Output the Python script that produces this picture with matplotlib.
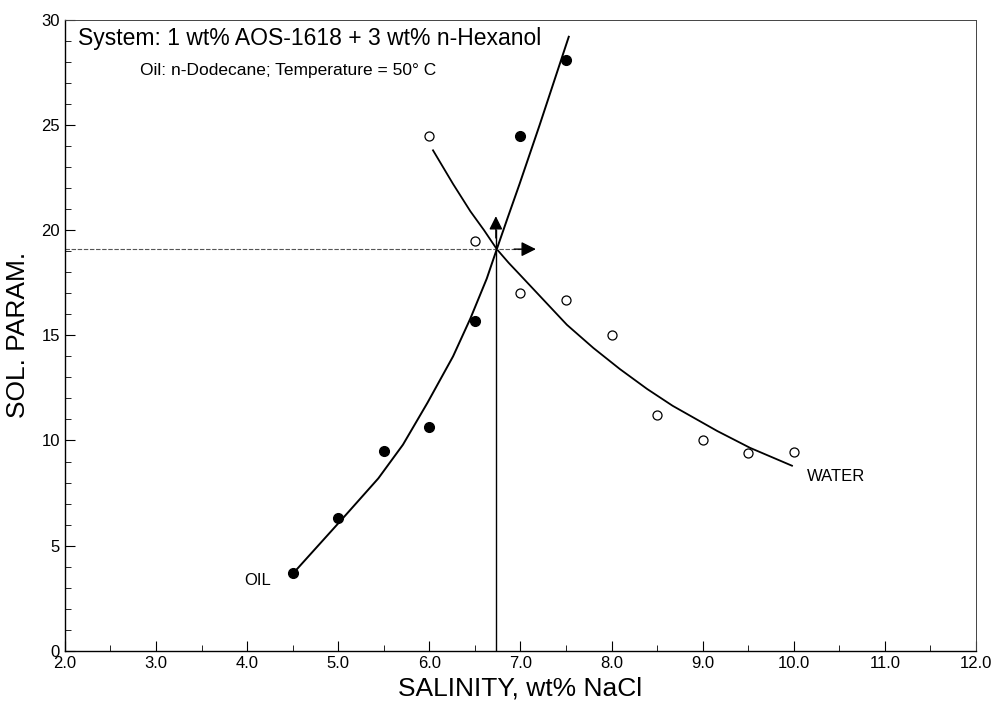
import matplotlib
matplotlib.use("Agg")
import matplotlib.pyplot as plt
import numpy as np
from matplotlib.ticker import MultipleLocator

plt.rcParams['font.family'] = ['Liberation Sans', 'DejaVu Sans']

# measured points
oil_x = [4.5, 5.0, 5.5, 6.0, 6.5, 7.0, 7.5]
oil_y = [3.7, 6.3, 9.5, 10.65, 15.7, 24.5, 28.1]
water_x = [6.0, 6.5, 7.0, 7.5, 8.0, 8.5, 9.0, 9.5, 10.0]
water_y = [24.5, 19.5, 17.0, 16.7, 15.0, 11.2, 10.0, 9.4, 9.45]

# hand-drawn fit curves
oil_fit_x = [4.54, 5.05, 5.44, 5.71, 5.98, 6.26, 6.45, 6.63, 6.74, 6.86, 6.99, 7.21, 7.37, 7.53]
oil_fit_y = [3.85, 6.3, 8.2, 9.8, 11.8, 14.0, 15.8, 17.7, 19.1, 20.6, 22.2, 25.0, 27.1, 29.2]
water_fit_x = [6.04, 6.26, 6.45, 6.6, 6.74, 6.87, 6.99, 7.25, 7.51, 7.80, 8.09, 8.39, 8.67, 9.16, 9.52, 9.98]
water_fit_y = [23.8, 22.2, 20.9, 20.0, 19.1, 18.45, 17.9, 16.7, 15.5, 14.4, 13.4, 12.45, 11.65, 10.45, 9.65, 8.8]

# optimum salinity / solubilization parameter
opt_x = 6.73
opt_y = 19.1

fig = plt.figure(figsize=(9.99, 7.12), dpi=100)
ax = fig.add_axes([0.065, 0.086, 0.912, 0.886])

ax.plot(oil_fit_x, oil_fit_y, color='black', lw=1.4, solid_joinstyle='round')
ax.plot(water_fit_x, water_fit_y, color='black', lw=1.3, solid_joinstyle='round')
ax.plot(oil_x, oil_y, 'o', color='black', ms=7)
ax.plot(water_x, water_y, 'o', mfc='white', mec='black', mew=0.9, ms=6.5)

# crosshair arrows
ax.plot([2.0, 7.0], [opt_y, opt_y], color='#555555', lw=0.8, ls=(0, (4, 1.5)))
ax.annotate('', xy=(7.2, opt_y), xytext=(6.9, opt_y),
            arrowprops=dict(arrowstyle='-|>', color='black', lw=1.0, mutation_scale=22))
ax.plot([opt_x, opt_x], [0, 20.0], color='black', lw=1.0)
ax.annotate('', xy=(opt_x, 20.8), xytext=(opt_x, 19.5),
            arrowprops=dict(arrowstyle='-|>', color='black', lw=1.0, mutation_scale=20))

ax.text(2.14, 29.13, 'System: 1 wt% AOS-1618 + 3 wt% n-Hexanol', fontsize=16.5, va='center', ha='left')
ax.text(2.82, 27.6, 'Oil: n-Dodecane; Temperature = 50\u00b0 C', fontsize=12.5, va='center', ha='left')
ax.text(4.12, 3.33, 'OIL', fontsize=12, ha='center', va='center')
ax.text(10.14, 8.27, 'WATER', fontsize=12, ha='left', va='center')

ax.set_xlim(2.0, 12.0)
ax.set_ylim(0, 30)
ax.xaxis.set_major_locator(MultipleLocator(1.0))
ax.xaxis.set_minor_locator(MultipleLocator(0.5))
ax.yaxis.set_major_locator(MultipleLocator(5))
ax.yaxis.set_minor_locator(MultipleLocator(1))
ax.set_xticklabels([f'{v:.1f}' for v in ax.get_xticks()])
ax.tick_params(which='both', direction='in', top=False, right=False, labelsize=12)
ax.tick_params(which='major', length=7, width=0.8)
ax.tick_params(which='minor', length=4, width=0.6)

for side in ['top', 'right']:
    ax.spines[side].set_linestyle((0, (3, 1)))
    ax.spines[side].set_linewidth(0.7)
    ax.spines[side].set_color('#444444')
for side in ['left', 'bottom']:
    ax.spines[side].set_linewidth(1.0)

ax.set_xlabel('SALINITY, wt% NaCl', fontsize=19, labelpad=4)
ax.set_ylabel('SOL. PARAM.', fontsize=19, labelpad=8)

fig.savefig('out.png', dpi=100)
